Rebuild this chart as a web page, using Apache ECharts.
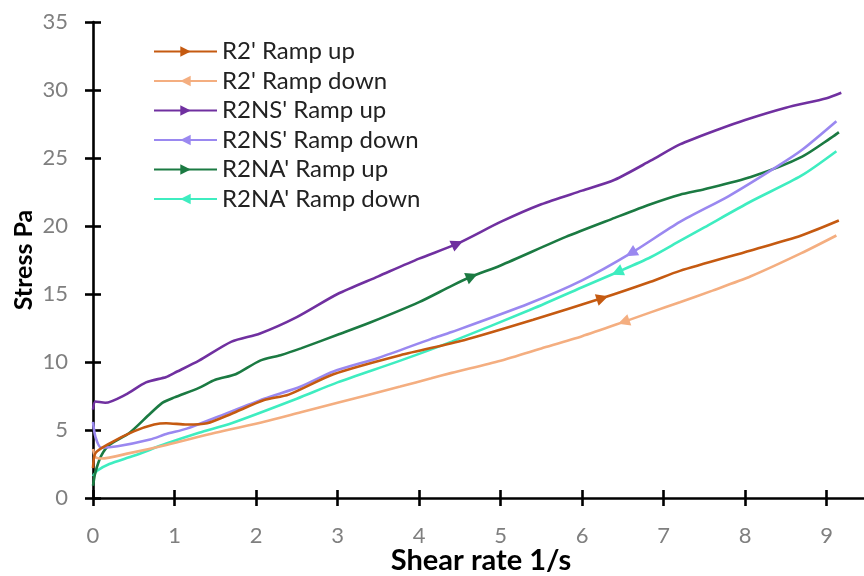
<!DOCTYPE html>
<html><head><meta charset="utf-8">
<script src="https://cdn.jsdelivr.net/npm/echarts@6/dist/echarts.min.js"></script>
<style>html,body{margin:0;padding:0;background:#fff}#c{width:864px;height:576px}</style>
</head><body><div id="c"></div>
<script>
// ---- data ----
const seriesNames = ["R2' Ramp up","R2' Ramp down","R2NS' Ramp up","R2NS' Ramp down","R2NA' Ramp up","R2NA' Ramp down"];

const r2UpX = [0,0.03,0.2,0.5,0.75,0.9,1.15,1.4,1.7,2.1,2.4,2.95,3.77,4.55,5.4,6.25,6.84,7.2,8.07,8.69,9.15];
const r2UpY = [2.2,3.3,4.0,4.9,5.4,5.5,5.4,5.5,6.2,7.2,7.6,9.1,10.5,11.6,13.1,14.7,15.9,16.7,18.2,19.3,20.4];

const r2DownX = [0,0.03,0.1,0.45,0.9,1.5,2.1,2.55,3.0,3.77,4.15,4.4,5.0,5.5,6.0,6.51,6.84,7.2,7.6,8.07,8.69,9.12];
const r2DownY = [3.6,3.0,2.9,3.3,3.9,4.8,5.6,6.3,7.0,8.2,8.8,9.2,10.1,11.0,11.9,12.95,13.65,14.4,15.25,16.3,18.0,19.3];

const nsUpX = [0,0.03,0.15,0.4,0.65,0.9,1.0,1.3,1.7,2.05,2.5,3.0,3.5,4.0,4.47,5.0,5.5,6.0,6.4,6.84,7.2,7.67,8.0,8.5,9.0,9.18];
const nsUpY = [6.5,7.1,7.0,7.6,8.5,8.9,9.2,10.1,11.5,12.1,13.3,15.0,16.3,17.6,18.7,20.3,21.6,22.6,23.4,24.8,26.0,27.1,27.8,28.7,29.4,29.8];

const nsDownX = [0,0.03,0.1,0.3,0.7,0.9,1.15,1.5,2.1,2.55,2.95,3.5,4.15,4.4,5.35,6.0,6.6,7.2,7.8,8.4,8.7,9.12];
const nsDownY = [5.6,4.5,3.7,3.8,4.3,4.7,5.1,5.9,7.3,8.2,9.3,10.3,11.7,12.2,14.3,16.0,18.0,20.3,22.2,24.4,25.6,27.7];

const naUpX = [0,0.03,0.1,0.2,0.45,0.7,0.85,1.0,1.3,1.5,1.75,2.05,2.3,2.55,3.0,3.4,4.0,4.4,4.65,5.0,5.8,6.4,6.84,7.2,7.5,8.07,8.7,9.15];
const naUpY = [0.9,1.9,3.1,3.9,4.8,6.2,7.0,7.4,8.1,8.7,9.1,10.1,10.5,11.0,12.0,12.9,14.4,15.6,16.3,17.1,19.2,20.6,21.6,22.3,22.7,23.6,25.1,26.9];

const naDownX = [0,0.05,0.2,0.5,0.9,1.3,1.7,2.5,3.0,3.77,4.4,5.35,6.0,6.43,6.84,7.2,7.5,8.07,8.69,9.12];
const naDownY = [1.6,2.0,2.5,3.1,4.0,4.8,5.5,7.3,8.5,10.1,11.5,13.8,15.5,16.6,17.7,18.9,19.9,21.8,23.7,25.5];

// x position of the direction arrow on each curve
const arrowX = [6.25, 6.51, 4.47, 6.6, 4.65, 6.43];

// ---- styling ----
const colors = ['#C55A11','#F4AE80','#7030A0','#9A88F0','#1B7A42','#3EEDC0'];
const dirs = [1,-1,1,-1,1,-1]; // 1: ramp up (arrow right), -1: ramp down (arrow left)
const xs = [r2UpX,r2DownX,nsUpX,nsDownX,naUpX,naDownX];
const ys = [r2UpY,r2DownY,nsUpY,nsDownY,naUpY,naDownY];

const chart = echarts.init(document.getElementById('c'), null, {renderer:'canvas'});
const FONT = 'Lato';
const XMAX = 9.52;

function buildSeries(angles){
  return seriesNames.map((name,i)=>{
    const data = xs[i].map((x,j)=>{
      const item = {value:[x, ys[i][j]]};
      if (x !== arrowX[i]) item.symbol = 'none';
      else item.symbolRotate = angles ? angles[i] : (dirs[i] > 0 ? -90 : 90);
      return item;
    });
    return {
      name, type:'line', data,
      xAxisIndex:0, yAxisIndex:0,
      smooth:0.25,
      symbol:'triangle', symbolSize:[12,12],
      symbolRotate: dirs[i] > 0 ? -90 : 90,
      showSymbol:true, showAllSymbol:true,
      lineStyle:{color:colors[i], width:2.6},
      itemStyle:{color:colors[i]},
      emphasis:{disabled:true},
      animation:false, z: 10-i
    };
  });
}

const axisCommon = {
  axisLine:{show:true, lineStyle:{color:'#000', width:2.6}},
  splitLine:{show:false}
};

const option = {
  animation:false,
  backgroundColor:'#fff',
  grid:{left:93, right:-5, top:22, bottom:78, containLabel:false, outerBoundsMode:'none'},
  legend:{
    show:true, orient:'vertical', left:153, top:39.5, padding:0,
    itemWidth:63, itemHeight:13, itemGap:5.5,
    textStyle:{fontFamily:FONT, fontSize:24, color:'#222', lineHeight:24},
    data: seriesNames
  },
  xAxis:[
    Object.assign({}, axisCommon, {
      type:'value', min:0, max:XMAX, interval:1,
      axisTick:{show:true, inside:false, length:8, lineStyle:{color:'#000', width:2.6}},
      axisLabel:{show:true, showMaxLabel:false, margin:27, fontFamily:FONT, fontSize:22, color:'#7f7f7f'},
      name:'Shear rate 1/s', nameLocation:'middle', nameGap:48, nameMoveOverlap:false,
      nameTextStyle:{fontFamily:FONT, fontSize:29, fontWeight:'bold', color:'#000'}
    }),
    {
      type:'value', min:0, max:XMAX, interval:1, position:'bottom', gridIndex:0,
      axisLine:{show:false}, splitLine:{show:false}, axisLabel:{show:false},
      axisTick:{show:true, inside:true, length:8, lineStyle:{color:'#000', width:2.6}}
    }
  ],
  yAxis:[
    Object.assign({}, axisCommon, {
      type:'value', min:0, max:35, interval:5,
      axisTick:{show:true, inside:false, length:8, lineStyle:{color:'#000', width:2.6}},
      axisLabel:{show:true, margin:25, fontFamily:FONT, fontSize:22, color:'#7f7f7f'},
      name:'Stress Pa', nameLocation:'middle', nameGap:57, nameMoveOverlap:false,
      nameTextStyle:{fontFamily:FONT, fontSize:25, fontWeight:'bold', color:'#000'}
    }),
    {
      type:'value', min:0, max:35, interval:5, position:'left', gridIndex:0,
      axisLine:{show:false}, splitLine:{show:false}, axisLabel:{show:false},
      axisTick:{show:true, inside:true, length:8, lineStyle:{color:'#000', width:2.6}}
    }
  ],
  series: buildSeries(null)
};
chart.setOption(option);

// orient the arrows along the local slope of each curve (in pixel space)
const angles = seriesNames.map((n,i)=>{
  const j = xs[i].indexOf(arrowX[i]);
  const a = chart.convertToPixel({gridIndex:0}, [xs[i][j-1], ys[i][j-1]]);
  const b = chart.convertToPixel({gridIndex:0}, [xs[i][j+1], ys[i][j+1]]);
  const ang = Math.atan2(-(b[1]-a[1]), b[0]-a[0]) * 180/Math.PI;
  const travel = dirs[i] > 0 ? ang : ang + 180;
  return travel - 90;
});
chart.setOption({series: buildSeries(angles)});
</script>
</body></html>
